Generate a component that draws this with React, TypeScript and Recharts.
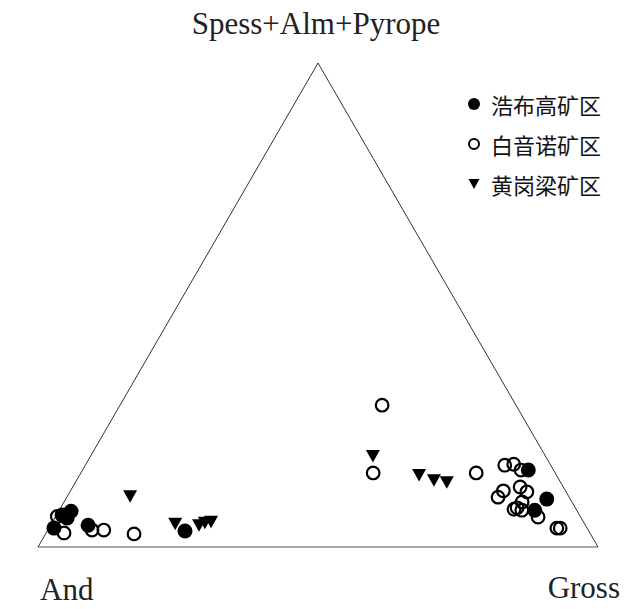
import { ScatterChart, Scatter, XAxis, YAxis, ReferenceLine } from 'recharts'

// ternary compositions: [And, Gross, Spess+Alm+Pyrope] (%)
const haobugao: [number, number, number][] = [
  [95.2, 0.9, 3.9], [92.4, 1.0, 6.6], [90.4, 2.2, 7.4], [91.8, 2.2, 6.0], [88.8, 6.7, 4.5],
  [72.1, 24.6, 3.3], [4.5, 79.6, 15.9], [4.2, 85.9, 9.9], [7.4, 84.9, 7.6],
]
const baiyinnuo: [number, number, number][] = [
  [93.4, 0.3, 6.3], [93.9, 3.2, 2.9], [88.6, 7.9, 3.5], [86.5, 10.0, 3.5], [81.5, 15.8, 2.7],
  [23.9, 46.8, 29.3], [32.5, 52.2, 15.3], [14.1, 70.6, 15.3], [8.1, 74.9, 16.9], [6.4, 76.4, 17.1],
  [5.8, 78.3, 15.9], [12.7, 77.0, 10.3], [11.2, 77.3, 11.6], [7.7, 79.9, 12.4], [7.0, 81.6, 11.4],
  [8.9, 81.8, 9.3], [10.4, 81.5, 8.1], [9.8, 82.6, 7.6], [11.1, 81.1, 7.8], [7.6, 86.2, 6.2],
  [5.4, 90.7, 3.9], [4.8, 91.3, 3.9],
]
const huanggangliang: [number, number, number][] = [
  [78.3, 11.2, 10.5], [73.2, 22.1, 4.8], [69.0, 26.5, 4.5], [67.7, 27.3, 5.0], [66.5, 28.3, 5.2],
  [30.8, 50.4, 18.8], [24.5, 60.6, 14.9], [22.4, 63.8, 13.8], [20.2, 66.3, 13.4],
]
const seriesNames = ['浩布高矿区', '白音诺矿区', '黄岗梁矿区']
const apexLabels = ['Spess+Alm+Pyrope', 'And', 'Gross']

const H = Math.sqrt(3) / 2 * 100
const toXY = (d: [number, number, number][]) =>
  d.map(([, g, s]) => ({ x: g + s / 2, y: (s * Math.sqrt(3)) / 2 }))

const FilledDot = (p: any) => <circle cx={p.cx} cy={p.cy} r={7.5} fill="#000" />
const OpenDot = (p: any) => <circle cx={p.cx} cy={p.cy} r={6.3} fill="none" stroke="#000" strokeWidth={2.2} />
const DownTri = (p: any) => (
  <path d={`M${p.cx - 7},${p.cy - 6}L${p.cx + 7},${p.cy - 6}L${p.cx},${p.cy + 6.5}Z`} fill="#000" />
)

const legendIcons = [
  <circle cx={8} cy={8} r={6} fill="#000" />,
  <circle cx={8} cy={8} r={5} fill="none" stroke="#000" strokeWidth={2} />,
  <path d="M2.5,3L13.5,3L8,13Z" fill="#000" />,
]

const label = { position: 'absolute' as const, fontFamily: '"Liberation Serif", serif', fontSize: 31, color: '#222', lineHeight: 1 }

export default function App() {
  return (
    <div style={{ position: 'absolute', left: 0, top: 0, width: 632, height: 609, background: '#fff', overflow: 'hidden' }}>
      <ScatterChart width={632} height={609} margin={{ top: 63, right: 34, bottom: 62, left: 38 }}>
        <XAxis type="number" dataKey="x" domain={[0, 100]} hide />
        <YAxis type="number" dataKey="y" domain={[0, H]} hide />
        <ReferenceLine segment={[{ x: 0, y: 0 }, { x: 50, y: H }]} stroke="#333" strokeWidth={1} ifOverflow="visible" />
        <ReferenceLine segment={[{ x: 50, y: H }, { x: 100, y: 0 }]} stroke="#333" strokeWidth={1} ifOverflow="visible" />
        <ReferenceLine segment={[{ x: 0, y: 0 }, { x: 100, y: 0 }]} stroke="#555" strokeWidth={1.2} ifOverflow="visible" />
        <Scatter name={seriesNames[1]} data={toXY(baiyinnuo)} shape={OpenDot} isAnimationActive={false} />
        <Scatter name={seriesNames[2]} data={toXY(huanggangliang)} shape={DownTri} isAnimationActive={false} />
        <Scatter name={seriesNames[0]} data={toXY(haobugao)} shape={FilledDot} isAnimationActive={false} />
      </ScatterChart>
      <div style={{ position: 'absolute', left: 466, top: 84, fontFamily: '"Noto Sans CJK SC", sans-serif', fontSize: 22, lineHeight: '40px', color: '#111' }}>
        {seriesNames.map((n, i) => (
          <div key={n} style={{ display: 'flex', alignItems: 'center' }}>
            <svg width={16} height={16} style={{ marginRight: 9 }}>{legendIcons[i]}</svg>
            <span>{n}</span>
          </div>
        ))}
      </div>
      <div style={{ ...label, left: 0, width: 632, top: 8, textAlign: 'center' }}>{apexLabels[0]}</div>
      <div style={{ ...label, left: 40, top: 574 }}>{apexLabels[1]}</div>
      <div style={{ ...label, right: 12, top: 572 }}>{apexLabels[2]}</div>
    </div>
  )
}
